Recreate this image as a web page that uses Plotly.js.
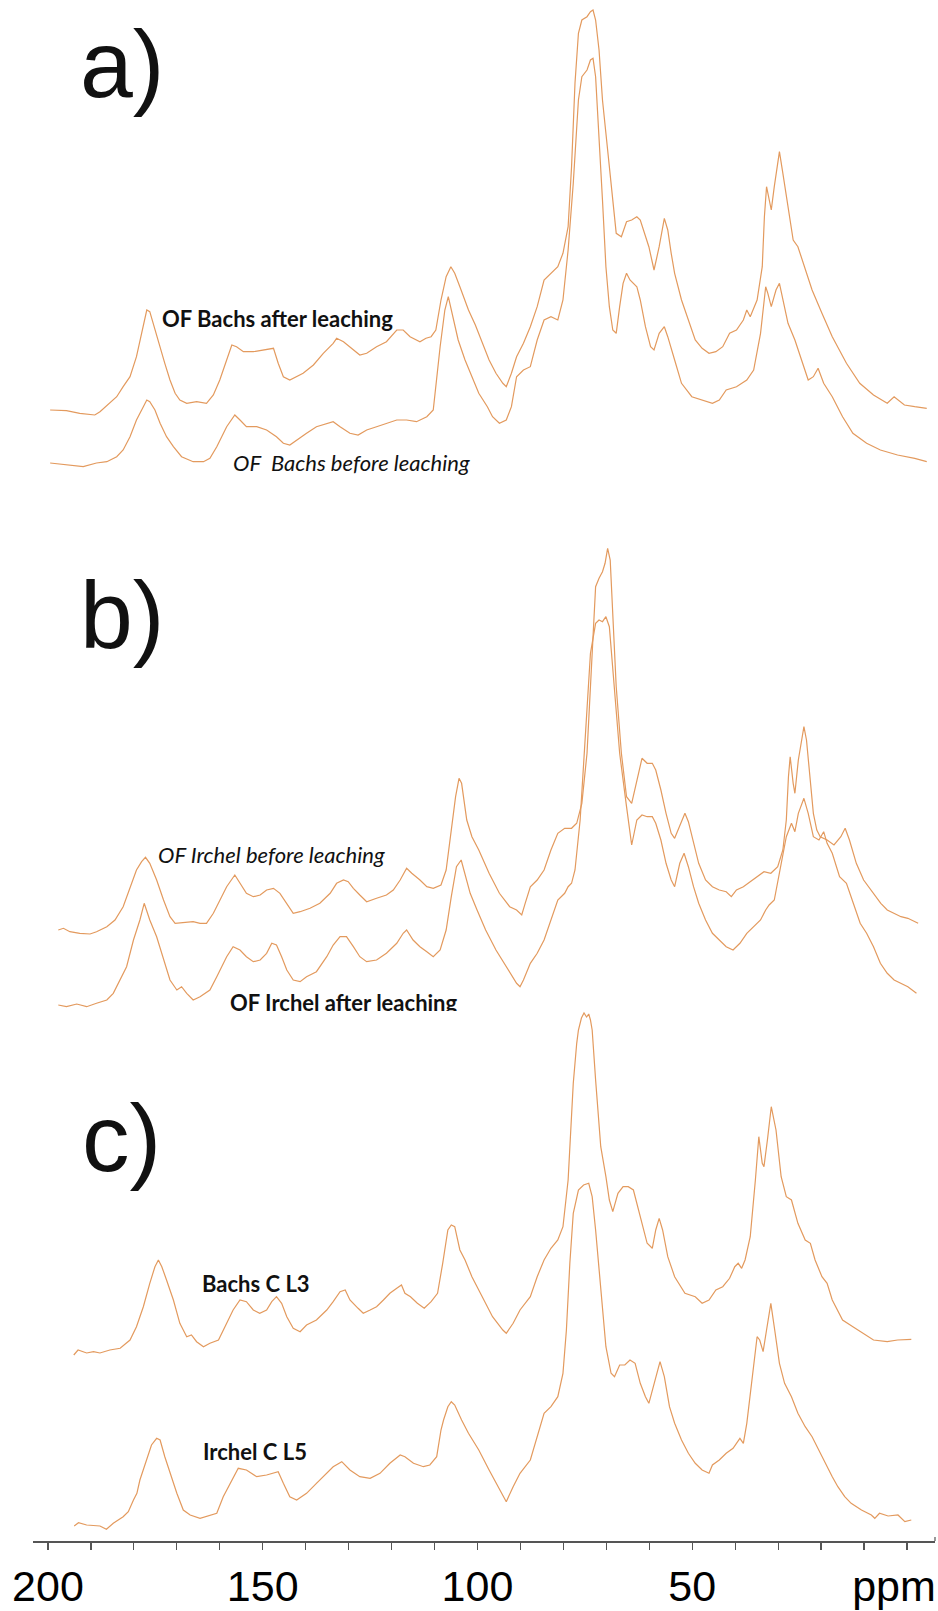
<!DOCTYPE html>
<html><head><meta charset="utf-8">
<script src="https://cdn.plot.ly/plotly-3.0.1.min.js"></script>
<style>html,body{margin:0;padding:0;background:#fff}#chart{width:938px;height:1611px}</style>
</head><body><div id="chart"></div>
<script>
// ---------- DATA (chemical shift in ppm, intensity in a.u. above each spectrum's own baseline) ----------
const bachsAfterPpm = [199.5,195.7,192.6,189.1,187.9,185.6,184.0,182.5,180.9,179.4,177.8,177.0,176.3,175.1,173.9,172.8,171.6,170.4,169.3,167.7,165.4,163.1,161.5,160.0,158.4,157.2,156.1,154.5,152.2,149.9,147.5,146.4,145.2,143.7,142.1,140.6,138.2,135.9,133.6,132.8,131.2,129.7,127.4,125.8,123.5,121.2,118.8,117.3,115.7,113.4,112.0,110.8,109.7,108.5,107.3,106.2,105.3,104.1,102.1,100.5,98.9,97.3,95.7,94.1,93.3,92.1,90.9,89.3,87.7,86.1,84.5,82.9,81.3,80.1,78.9,78.1,77.3,76.5,75.7,74.5,73.7,73.1,72.5,71.7,70.9,70.1,69.3,68.5,67.7,66.5,65.3,64.1,62.9,62.1,61.3,60.1,58.9,57.7,56.5,55.7,54.9,54.1,52.5,50.9,49.3,47.7,46.1,44.5,42.9,41.3,39.7,38.1,37.3,36.5,34.9,33.7,33.2,32.7,32.1,31.6,30.9,30.1,29.7,28.9,27.7,26.5,25.4,23.8,22.1,19.8,17.4,14.1,11.0,7.8,4.6,3.0,0.6,-1.8,-4.6];
const bachsAfterInt = [0,-0.7,-3.3,-5,-1.7,6.7,13.3,23.3,33.3,53.3,86.7,100,98.3,80,63.3,46.7,30,16.7,10,6.7,8.3,6.7,15,30,50,65,63.3,58.3,58.3,60,61.7,46.7,33.3,30,33.3,36.7,45,56.7,66.7,71.7,68.3,63.3,55,56.7,63.3,68.3,80,80,73.3,68.3,71.7,73.3,80,110,133.3,143.3,136.7,123.3,100,85,66.7,50,36.7,26.7,23.3,36.7,53.3,66.7,83.3,103.3,130,136.7,143.3,156.7,183.3,243.3,326.7,376.7,390,393.3,398.3,400,390,360,310,276.7,243.3,203.3,176.7,173.3,188.3,190,193.3,190,180,163.3,140,163.3,191.7,180,156.7,136.7,110,90,70,61.7,56.7,58.3,63.3,76.7,80,90,100,93.3,110,143.3,193.3,223.3,210,200,223.3,250,258.3,236.7,203.3,170,163.3,143.3,120,96.7,73.3,46.7,26.7,15,6.7,13.3,5,3.3,1.7];

const bachsBeforePpm = [199.5,195.7,191.8,188.7,186.3,184.0,182.5,180.9,179.4,177.8,177.0,176.3,175.1,173.9,172.4,170.8,168.9,166.2,163.8,162.3,160.7,158.4,156.5,155.3,153.8,151.4,149.1,146.8,145.2,143.7,142.1,139.8,137.5,135.1,133.6,132.0,129.7,127.8,125.8,123.5,121.2,118.8,116.5,114.2,111.8,110.3,108.7,107.6,106.8,105.7,104.5,102.9,101.3,99.7,97.7,96.5,94.9,93.3,92.1,90.9,89.3,87.7,86.1,84.5,82.9,81.3,80.1,78.9,77.7,76.5,75.7,74.5,73.7,73.1,72.5,71.7,70.9,70.1,69.3,68.5,67.7,66.9,66.1,65.3,64.5,62.9,62.1,60.9,59.7,58.9,57.7,56.5,55.7,54.1,52.5,50.1,47.7,45.3,43.7,42.1,39.7,37.3,35.7,34.1,32.9,32.4,31.6,30.5,29.7,28.9,27.7,26.1,24.5,23.0,21.8,20.7,19.4,17.4,15.0,12.6,9.4,6.2,2.2,-1.8,-4.6];
const bachsBeforeInt = [0,-2,-3.7,0,1.3,6.3,13,26.3,43,56.3,63,61.3,53,39.7,26.3,16.3,6.3,1.3,1.3,4.7,16.3,36.3,48,43,36.3,36.3,33,26.3,19.7,18,23,29.7,36.3,39.7,41.3,36.3,29.7,28,33,36.3,39.7,43,43,41.3,46.3,53,116.3,153,166.3,146.3,123,103,86.3,69.7,56.3,46.3,39.7,43,56.3,86.3,93,96.3,123,143,146.3,143,163,213,279.7,363,386.3,393,403,404.7,386.3,329.7,263,196.3,156.3,133,129.7,156.3,179.7,189.7,183,176.3,163,136.3,116.3,113,129.7,136.3,126.3,103,79.7,66.3,63,59.7,63,73,76.3,83,93,129.7,176.3,169.7,156.3,173,179.7,163,139.7,123,103,83,86.3,94.7,79.7,66.3,46.3,29.7,19.7,13,8,4.7,1.3];

const irchelBeforePpm = [197.6,196.4,194.9,192.6,190.2,188.7,186.3,184.4,182.5,180.9,179.4,178.2,177.3,176.3,174.7,173.1,171.6,170.4,168.5,166.2,164.6,163.1,161.5,160.0,158.4,156.5,155.3,153.8,152.2,150.6,149.1,147.5,146.0,144.4,142.9,141.3,139.0,136.7,134.3,132.8,131.2,130.1,128.9,127.4,125.8,123.5,121.2,119.6,118.0,116.5,115.3,113.4,111.8,110.3,108.5,107.3,106.1,105.1,104.3,103.7,102.5,101.3,99.7,97.3,94.9,92.5,90.9,89.7,88.9,87.7,86.1,84.5,82.9,81.3,79.7,78.1,76.9,75.7,74.5,73.3,72.5,71.7,70.9,70.3,69.7,69.1,68.5,67.7,66.5,65.3,64.1,62.9,61.7,60.5,59.3,58.5,57.3,56.1,54.9,54.1,52.9,51.7,50.9,49.7,48.5,46.9,45.3,43.7,42.1,40.9,39.7,38.1,36.5,34.9,33.3,31.7,30.1,28.9,28.1,27.6,27.2,26.5,26.1,25.3,24.5,24.0,23.4,22.6,21.8,21.0,20.2,18.6,17.0,15.4,14.4,13.4,11.8,10.1,7.8,6.1,4.6,3.0,1.4,-0.2,-2.6];
const irchelBeforeInt = [0,1.7,-1.7,-3.3,-4,-1.7,3.3,10,23.3,43.3,60,68.3,72.7,66.7,50,30,13.3,6.7,7.3,8.3,6.7,6.7,16.7,30,43.3,55,46.7,36.7,33.3,35,40,41.7,36.7,26.7,16.7,18.3,21.7,26.7,36.7,46.7,50,48.3,41.7,35,28.3,31.7,35,40,50,61.7,56.7,50,43.3,41.7,45,60,100,133.3,151.7,146.7,110,93.3,80,56.7,36.7,23.3,20,15,26.7,43.3,50,60,80,96.7,101.7,101.7,106.7,126.7,176.7,276.7,343.3,351.7,358.3,366.7,381.7,370,310,243.3,176.7,133.3,126.7,150,171.7,166.7,166.7,160,140,116.7,96.7,91.7,103.3,116.7,108.3,86.7,66.7,50,43.3,40,38.3,33.3,40,43.3,48.3,53.3,58.3,56.7,63.3,80,110,153.3,173.3,146.7,136.7,170,193.3,203.3,190,150,116.7,100,93.3,90,85,93.3,101.7,90,66.7,50,36.7,26.7,20,16.7,13.3,11.7,6.7];

const irchelAfterPpm = [197.6,195.7,193.3,191.0,188.7,186.3,184.8,183.2,181.7,180.1,178.6,177.6,177.0,176.3,174.7,173.1,171.6,170.0,168.9,167.7,166.2,164.6,162.3,160.7,158.4,156.9,155.3,153.8,152.2,150.6,149.1,147.9,146.8,145.6,144.4,142.9,141.3,139.8,137.5,135.1,133.6,132.0,130.5,128.9,127.4,125.8,123.5,121.2,118.8,117.3,116.5,115.0,113.4,111.8,110.3,108.7,107.3,106.1,104.9,103.8,102.9,101.7,100.1,98.1,95.7,93.3,90.9,90.1,89.3,87.7,86.1,84.5,82.9,81.3,79.7,78.9,78.1,77.3,76.1,74.9,73.7,72.5,71.7,70.9,70.1,69.3,68.1,66.9,65.3,64.1,62.9,61.7,60.5,59.3,58.5,57.3,56.1,54.9,54.1,52.9,51.9,50.9,49.7,48.5,46.9,45.3,43.7,42.1,40.5,38.9,37.3,35.7,34.1,32.9,32.1,30.9,29.7,28.1,26.9,26.1,25.3,24.0,23.0,21.8,20.5,19.4,18.6,17.4,15.7,14.1,12.5,10.9,9.4,7.8,6.2,4.6,3.0,1.4,-0.2,-2.2];
const irchelAfterInt = [0,-1.7,1,-1.7,1.7,5,11.7,25,38.3,65,85,101.7,93.3,85,68.3,45,25,15,18.3,11.7,5,8.3,15,28.3,48.3,58.3,55,48.3,43.3,45,51.7,61.7,60,48.3,35,25,23.3,28.3,33.3,48.3,60,68.3,68.3,58.3,48.3,43.3,45,51.7,61.7,71.7,75,65,58.3,53.3,48.3,55,75,108.3,138.3,145,131.7,111.7,95,75,55,38.3,21.7,18.3,25,41.7,51.7,65,85,105,111.7,118.3,121.7,135,185,268.3,351.7,381.7,385,383.3,388.3,378.3,318.3,251.7,198.3,160,185,190,188.3,188.3,181.7,165,141.7,125,118.3,141.7,151.7,138.3,118.3,101.7,85,71.7,65,58.3,55,61.7,71.7,78.3,85,95,100,105,131.7,168.3,181.7,173.3,191.7,206.7,191.7,168.3,165,173.3,161.7,151.7,128.3,121.7,101.7,81.7,71.7,58.3,41.7,31.7,25,21.7,18.3,11.7];

const bachsCL3Ppm = [194.0,193.0,191.0,189.4,187.9,185.6,183.2,180.9,179.4,177.8,176.3,175.1,174.3,173.5,172.4,170.8,169.3,167.7,166.6,165.4,163.8,162.3,160.3,158.4,156.9,155.3,153.8,152.2,150.7,149.1,147.9,146.8,145.6,144.4,142.9,141.3,139.8,137.5,135.1,133.6,132.0,130.8,129.7,127.8,126.6,125.0,123.5,121.9,120.4,118.8,117.7,116.9,115.6,114.0,112.4,110.8,109.3,108.1,106.9,106.1,105.3,104.1,102.9,101.3,98.9,96.5,94.1,93.3,91.7,90.1,87.7,86.1,84.5,82.9,81.3,80.1,78.9,78.1,77.7,76.9,76.5,75.8,75.2,74.6,74.1,73.7,73.3,72.5,71.3,70.1,69.3,68.5,67.3,66.1,64.9,63.7,62.9,61.7,60.5,59.3,58.5,57.7,56.9,55.7,54.1,51.7,49.3,47.7,46.1,44.5,42.9,41.3,40.1,39.3,38.5,37.7,36.5,35.3,34.5,33.7,33.3,32.5,31.6,30.5,29.3,28.1,26.9,25.4,23.7,22.5,21.4,19.8,18.6,17.4,15.0,12.6,10.2,7.8,4.6,2.2,-1.0];
const bachsCL3Int = [-2,3,0,1.3,0,3,4.7,13,26.3,46.3,69.7,86.3,93,86.3,73,53,29.7,16.3,18,11.3,6.3,9.7,13,29.7,43,53,51.3,43,39.7,43,51.3,56.3,49.7,36.3,24.7,21.3,28,33,43,51.3,61.3,63,53,44.7,39.7,43,46.3,53,59.7,64.7,68,59.7,56.3,49.7,44.7,51.3,59.7,89.7,123,128,126.3,103,93,76.3,56.3,36.3,23,19.7,29.7,43,56.3,76.3,93,104.7,113,126.3,173,239.7,269.7,309.7,323,335,340,336,339,333,323,273,206.3,176.3,153,141.3,159.7,166.3,166.3,163,149.7,129.7,109.7,104.7,123,134.7,123,96.3,76.3,59.7,56.3,49.7,53,63,66.3,74.7,86.3,89.7,84.7,93,116.3,173,216.3,189.7,186.3,213,246.3,223,176.3,156.3,153,129.7,113,109.7,93,76.3,69.7,53,33,26.3,19.7,13,11.3,13,13.7];

const irchelCL5Ppm = [193.9,192.9,191.0,187.9,186.4,184.8,182.5,181.3,180.1,179.3,178.6,177.0,175.9,174.7,173.9,172.8,171.6,170.0,168.5,166.9,164.6,162.3,160.7,159.2,157.2,155.7,153.8,151.4,149.1,146.4,145.2,143.7,142.1,139.8,137.5,135.1,133.6,131.6,129.7,127.4,125.0,122.7,120.4,118.0,116.9,114.9,112.6,111.1,109.5,108.5,107.9,106.9,106.1,105.3,104.5,103.7,102.1,99.7,97.3,94.9,93.3,91.7,90.1,87.7,86.1,84.5,82.9,81.3,80.1,79.3,78.5,77.7,76.5,75.3,74.1,73.3,72.5,71.7,70.9,70.1,68.9,68.1,66.9,65.7,64.5,63.3,62.1,60.9,60.1,58.9,57.5,56.5,55.3,54.1,52.5,50.9,49.3,47.7,46.1,45.3,43.7,42.1,40.5,38.9,38.1,37.3,36.1,34.9,34.3,33.5,32.7,31.7,30.8,29.7,28.5,26.9,25.4,23.7,22.1,19.8,17.4,16.1,14.5,13.0,10.6,8.3,7.5,6.4,4.4,2.1,0.5,-1.0];
const irchelCL5Int = [0,3.3,1,0,-3.3,2.7,9.3,14.3,26,32.7,46,66,81,87.7,86,69.3,52.7,32.7,16,11,7.7,11,12.7,29.3,46,57.7,56,49.3,51,54.3,42.7,29.3,26,32.7,42.7,52.7,59.3,64.3,56,49.3,47.7,52.7,62.7,71,69.3,62.7,59.3,61,69.3,96,106,119.3,124.3,121,112.7,106,92.7,76,56,36,24.3,39.3,52.7,66,89.3,112.7,119.3,129.3,152.7,196,262.7,312.7,336,341,342.7,329.3,296,256,212.7,179.3,152.7,149.3,161,161,166,162.7,142.7,129.3,122.7,142.7,164.3,149.3,119.3,102.7,86,72.7,62.7,56,52.7,61,66,72.7,77.7,87.7,82.7,102.7,146,189.3,186,174.3,196,222.7,196,162.7,142.7,129.3,112.7,99.3,89.3,69.3,49.3,39.3,29.3,22.7,16,11,7.7,12.7,10,11,4.3,6];

const spectrumNames = ['OF Bachs after leaching','OF  Bachs before leaching','OF Irchel before leaching','OF Irchel after leaching','Bachs C L3','Irchel C L5'];
const panelLabels = ['a)','b)','c)'];
const xTickVals = [200,190,180,170,160,150,140,130,120,110,100,90,80,70,60,50,40,30,20,10,0];
const xTickText = ['200','','','','','150','','','','','100','','','','','50','','','','','ppm'];

// ---------- LAYOUT GEOMETRY ----------
const W = 938, H = 1611, ML = 33, MR = 3, MT = 0, MB = 70;
const plotW = W - ML - MR, plotH = H - MT - MB;
const X_RANGE = [203.49, -6.52];
// vertical stacking offsets of each spectrum (a.u. above axis)
const stackOffsets = [1131, 1078, 611, 536, 188, 15];
const LINE_COLOR = '#E39A5E';

const series = [
  [bachsAfterPpm, bachsAfterInt], [bachsBeforePpm, bachsBeforeInt],
  [irchelBeforePpm, irchelBeforeInt], [irchelAfterPpm, irchelAfterInt],
  [bachsCL3Ppm, bachsCL3Int], [irchelCL5Ppm, irchelCL5Int]
];
const traces = series.map((s, i) => ({
  type: 'scatter', mode: 'lines', name: spectrumNames[i],
  x: s[0], y: s[1].map(v => v + stackOffsets[i]),
  line: {color: LINE_COLOR, width: 1.2, shape: 'linear'},
  hoverinfo: 'skip', showlegend: false
}));
// empty helper trace so the overlaid unit axis (x2) is drawn
traces.push({type: 'scatter', mode: 'lines', x: [], y: [], xaxis: 'x2', yaxis: 'y',
  hoverinfo: 'skip', showlegend: false});

// the unit label ("ppm") sits at the 0 position on its own overlaid axis, nudged left to stay on the page
const unitIdx = xTickText.length - 1;
const mainTickText = xTickText.map((t, i) => i === unitIdx ? '' : t);

const px = xp => (xp - ML) / plotW;
const py = yp => (H - MB - yp) / plotH;

function textAnn(text, left, baseline, size, family, weight, style, asc, desc) {
  const yc = baseline - (asc - desc) / 2 * size;
  return {text: text, xref: 'paper', yref: 'paper', x: px(left), y: py(yc),
    xanchor: 'left', yanchor: 'middle', showarrow: false, borderpad: 0, borderwidth: 0,
    font: {family: family, size: size, color: '#111', weight: weight, style: style}};
}
const LATO = 'Lato, "Open Sans", sans-serif';
const SANS = '"Liberation Sans", Arial, sans-serif';
const NBSP = '\u00a0';
const annotations = [
  textAnn(panelLabels[0], 80, 97, 95, SANS, 400, 'normal', 0.905, 0.212),
  textAnn(panelLabels[1], 80, 648, 95, SANS, 400, 'normal', 0.905, 0.212),
  textAnn(panelLabels[2], 82, 1171, 95, SANS, 400, 'normal', 0.905, 0.212),
  textAnn(spectrumNames[0], 162, 327, 22, LATO, 700, 'normal', 0.987, 0.213),
  textAnn(spectrumNames[1].replace('  ', NBSP + ' '), 233, 471, 22, LATO, 400, 'italic', 0.987, 0.213),
  textAnn(spectrumNames[2], 158, 863, 22, LATO, 400, 'italic', 0.987, 0.213),
  textAnn(spectrumNames[3], 230, 1011, 22, LATO, 700, 'normal', 0.987, 0.213),
  textAnn(spectrumNames[4], 202, 1292, 22, LATO, 700, 'normal', 0.987, 0.213),
  textAnn(spectrumNames[5], 203, 1460, 22, LATO, 700, 'normal', 0.987, 0.213),
  // white strip that cuts off the bottom of the "after leaching" label as in the original
  {text: ' ', xref: 'paper', yref: 'paper', x: px(226), y: py(1011), xanchor: 'left', yanchor: 'top',
   width: 245, height: 12, bgcolor: '#ffffff', showarrow: false, borderpad: 0, borderwidth: 0}
];

const TICKFONT = {family: SANS, size: 43, color: '#000'};
const layout = {
  width: W, height: H, margin: {l: ML, r: MR, t: MT, b: MB},
  paper_bgcolor: '#fff', plot_bgcolor: '#fff', showlegend: false,
  xaxis: {range: X_RANGE, showgrid: false, zeroline: false, showline: true,
    linecolor: '#555', linewidth: 1.5, ticks: 'outside', ticklen: 7, tickwidth: 1.2, tickcolor: '#555',
    tickmode: 'array', tickvals: xTickVals, ticktext: mainTickText, ticklabelstandoff: 0,
    ticklabeloverflow: 'allow', automargin: false, tickfont: TICKFONT, fixedrange: true},
  xaxis2: {overlaying: 'x', anchor: 'y', side: 'bottom', range: X_RANGE, showgrid: false, zeroline: false,
    showline: false, ticks: 'outside', ticklen: 7, tickwidth: 0, tickcolor: 'rgba(0,0,0,0)',
    tickmode: 'array', tickvals: [xTickVals[unitIdx]], ticktext: [xTickText[unitIdx]],
    ticklabelstandoff: 0, ticklabelshift: 13, ticklabeloverflow: 'allow', automargin: false,
    tickfont: TICKFONT, fixedrange: true},
  yaxis: {range: [0, plotH], visible: false, showgrid: false, zeroline: false, fixedrange: true},
  annotations: annotations,
  shapes: [{type: 'line', xref: 'paper', yref: 'paper', x0: 1, x1: 1, y0: 0, y1: 4 / plotH,
    line: {color: '#555', width: 1.2}}]
};
Plotly.newPlot('chart', traces, layout, {staticPlot: true, displayModeBar: false});
</script></body></html>
